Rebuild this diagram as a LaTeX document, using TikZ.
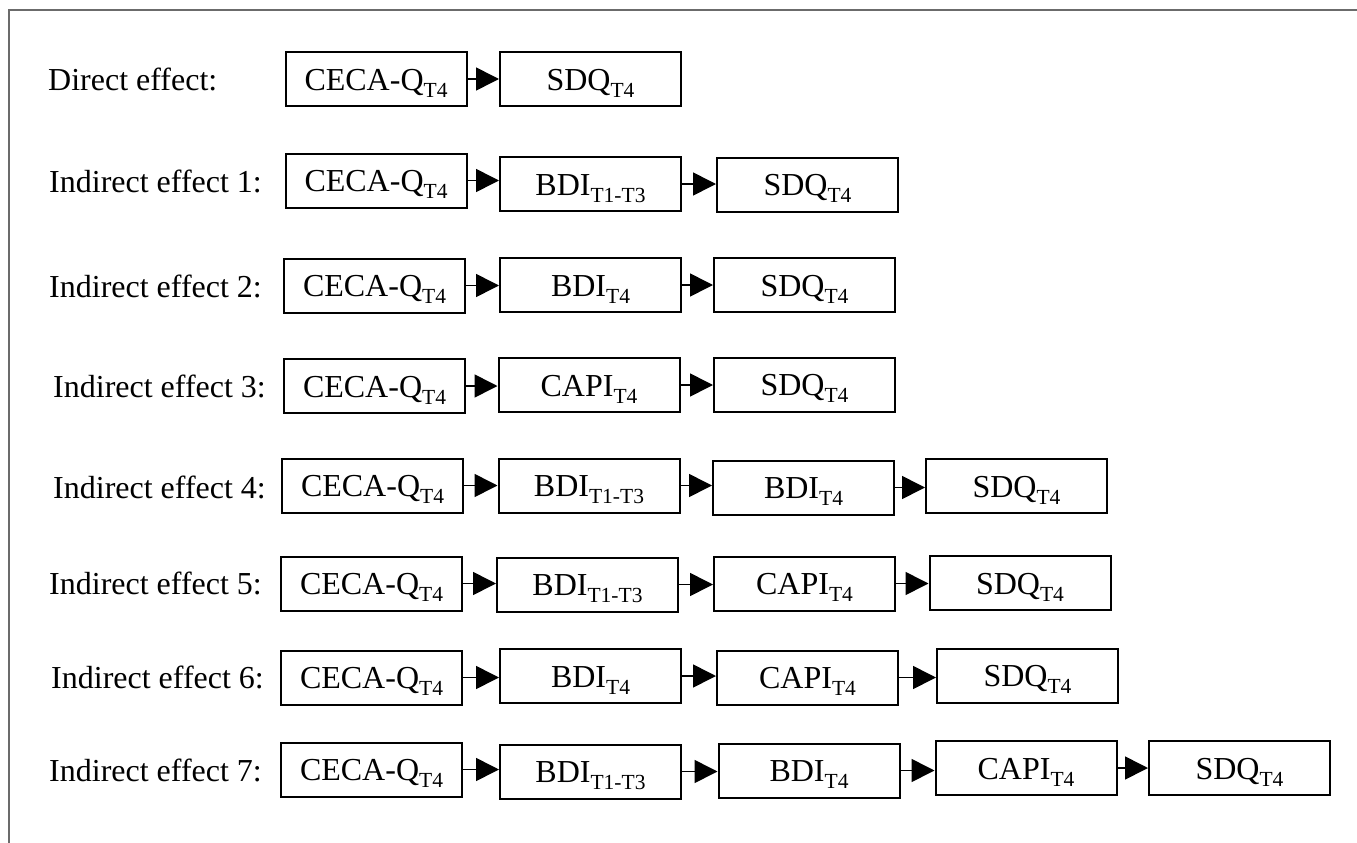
\documentclass[tikz,border=0pt]{standalone}
\usepackage{fontspec}
\setmainfont{Liberation Serif}
\usetikzlibrary{arrows.meta}
\newcommand{\mysub}[1]{\raisebox{-7pt}{\fontsize{21.5}{24}\selectfont #1}}
\definecolor{framegray}{HTML}{6B6B6B}
\tikzset{
  box/.style={draw, line width=2pt, minimum width=181pt, minimum height=54pt,
    inner sep=0pt, text height=22pt, text depth=0pt, font=\fontsize{32}{38}\selectfont},
  lab/.style={anchor=west, inner sep=0pt, text height=22pt, text depth=0pt,
    font=\fontsize{32}{38}\selectfont},
  arr/.style={line width=1.6pt, -{Triangle[length=23pt,width=23pt]}},
  frameline/.style={draw=framegray, line width=2pt}
}
\begin{document}
\begin{tikzpicture}[x=1pt,y=-1pt]
\useasboundingbox (0,0) rectangle (1357,843);
\draw[frameline] (9,843) -- (9,10) -- (1357,10);

% Direct effect
\node[lab] (ld) at (48,79) {Direct effect:};
\node[box] (d1) at (376,79) {CECA-Q\mysub{T4}};
\node[box] (d2) at (590.5,79) {SDQ\mysub{T4}};
\draw[arr] (d1) -- (d1 -| d2.west);

% Indirect effect 1
\node[lab] (l1) at (49,181) {Indirect effect 1:};
\node[box] (a1) at (376,180.5) {CECA-Q\mysub{T4}};
\node[box] (a2) at (590.5,184) {BDI\mysub{T1-T3}};
\node[box] (a3) at (807.5,184.5) {SDQ\mysub{T4}};
\draw[arr] (a1) -- (a1 -| a2.west);
\draw[arr] (a2) -- (a2 -| a3.west);

% Indirect effect 2
\node[lab] (l2) at (49,286) {Indirect effect 2:};
\node[box] (b1) at (374.5,285.5) {CECA-Q\mysub{T4}};
\node[box] (b2) at (590.5,285) {BDI\mysub{T4}};
\node[box] (b3) at (804.5,285) {SDQ\mysub{T4}};
\draw[arr] (b1) -- (b1 -| b2.west);
\draw[arr] (b2) -- (b2 -| b3.west);

% Indirect effect 3
\node[lab] (l3) at (53,386) {Indirect effect 3:};
\node[box] (c1) at (374.5,386) {CECA-Q\mysub{T4}};
\node[box] (c2) at (589,385) {CAPI\mysub{T4}};
\node[box] (c3) at (804.5,384.5) {SDQ\mysub{T4}};
\draw[arr] (c1) -- (c1 -| c2.west);
\draw[arr] (c2) -- (c2 -| c3.west);

% Indirect effect 4
\node[lab] (l4) at (53,487) {Indirect effect 4:};
\node[box] (e1) at (372.5,485.5) {CECA-Q\mysub{T4}};
\node[box] (e2) at (589,485.5) {BDI\mysub{T1-T3}};
\node[box] (e3) at (803.5,487.5) {BDI\mysub{T4}};
\node[box] (e4) at (1016.5,486) {SDQ\mysub{T4}};
\draw[arr] (e1) -- (e1 -| e2.west);
\draw[arr] (e2) -- (e2 -| e3.west);
\draw[arr] (e3) -- (e3 -| e4.west);

% Indirect effect 5
\node[lab] (l5) at (49,583) {Indirect effect 5:};
\node[box] (f1) at (371.5,583.5) {CECA-Q\mysub{T4}};
\node[box] (f2) at (587.5,584.5) {BDI\mysub{T1-T3}};
\node[box] (f3) at (804.5,583.5) {CAPI\mysub{T4}};
\node[box] (f4) at (1020,583) {SDQ\mysub{T4}};
\draw[arr] (f1) -- (f1 -| f2.west);
\draw[arr] (f2) -- (f2 -| f3.west);
\draw[arr] (f3) -- (f3 -| f4.west);

% Indirect effect 6
\node[lab] (l6) at (51,677) {Indirect effect 6:};
\node[box] (g1) at (371.5,677.5) {CECA-Q\mysub{T4}};
\node[box] (g2) at (590.5,676) {BDI\mysub{T4}};
\node[box] (g3) at (807.5,677.5) {CAPI\mysub{T4}};
\node[box] (g4) at (1027.5,675.5) {SDQ\mysub{T4}};
\draw[arr] (g1) -- (g1 -| g2.west);
\draw[arr] (g2) -- (g2 -| g3.west);
\draw[arr] (g3) -- (g3 -| g4.west);

% Indirect effect 7
\node[lab] (l7) at (49,770) {Indirect effect 7:};
\node[box] (h1) at (371.5,769.5) {CECA-Q\mysub{T4}};
\node[box] (h2) at (590.5,771.5) {BDI\mysub{T1-T3}};
\node[box] (h3) at (809,770.5) {BDI\mysub{T4}};
\node[box] (h4) at (1026,768) {CAPI\mysub{T4}};
\node[box] (h5) at (1239.5,768) {SDQ\mysub{T4}};
\draw[arr] (h1) -- (h1 -| h2.west);
\draw[arr] (h2) -- (h2 -| h3.west);
\draw[arr] (h3) -- (h3 -| h4.west);
\draw[arr] (h4) -- (h4 -| h5.west);
\end{tikzpicture}
\end{document}
